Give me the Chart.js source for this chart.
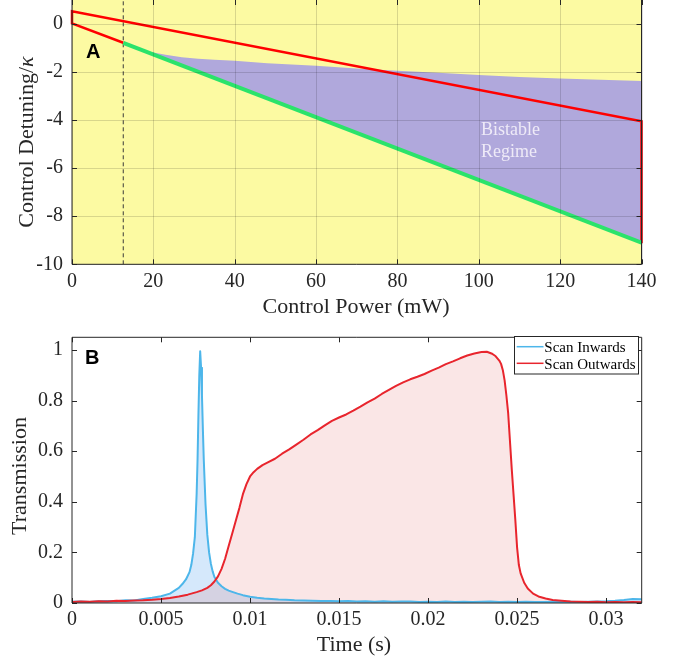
<!DOCTYPE html>
<html><head><meta charset="utf-8">
<script src="https://cdn.jsdelivr.net/npm/chart.js@4.4.0/dist/chart.umd.min.js"></script>
<style>
html,body{margin:0;padding:0;background:#fff;overflow:hidden;width:699px;height:660px;}
#c1{position:absolute;left:0;top:-4px;}
#c2{position:absolute;left:0;top:326px;}
</style></head><body>
<canvas id="c1" width="699" height="330"></canvas>
<canvas id="c2" width="699" height="334"></canvas>
<script>
// ---------- Panel A data ----------
const powerTicks = [0, 20, 40, 60, 80, 100, 120, 140];
const detuningTicks = [0, -2, -4, -6, -8, -10];
const redBoundary = [
  {x: 12.6, y: -0.78}, {x: 0, y: 0.03}, {x: 0, y: 0.53},
  {x: 140, y: -4.05}, {x: 140, y: -9.12}
];
const greenEdge = [{x: 12.6, y: -0.78}, {x: 140, y: -9.1}];
const thresholdLine = [{x: 12.6, y: -10}, {x: 12.6, y: 1}];
const bistableUpperP = [17.5, 20, 23, 27, 31, 35, 40, 48, 60, 70, 80, 90, 100, 110, 120, 130, 140];
const bistableUpperD = [-1.1, -1.18, -1.28, -1.38, -1.45, -1.49, -1.53, -1.63, -1.74, -1.85, -1.94, -2.03, -2.12, -2.2, -2.27, -2.32, -2.37];
const bistableLower = [{x: 140, y: -9.1}, {x: 17.5, y: -1.1}];

// ---------- Panel B data ----------
const timeTicks = [0, 0.005, 0.01, 0.015, 0.02, 0.025, 0.03];
const timeTickLabels = ['0', '0.005', '0.01', '0.015', '0.02', '0.025', '0.03'];
const transTicks = [0, 0.2, 0.4, 0.6, 0.8, 1];
const transTickLabels = ['0', '0.2', '0.4', '0.6', '0.8', '1'];

const scanInT = [0,0.0005,0.001,0.0015,0.002,0.0025,0.003,0.0035,0.004,0.0045,0.005,0.0055,0.006,0.0062,0.0064,0.0066,0.0067,0.0068,0.0069,0.007,0.00705,0.0071,0.00715,0.0072,0.00725,0.0073,0.00735,0.0074,0.0075,0.0076,0.0077,0.0078,0.0079,0.008,0.0082,0.0084,0.0086,0.0088,0.009,0.0093,0.0096,0.01,0.0104,0.0108,0.0112,0.0116,0.012,
0.0125,0.013,0.0135,0.014,0.0145,0.015,0.0155,0.016,0.0165,0.017,0.0175,0.018,0.0185,0.019,0.0195,0.02,0.0205,0.021,0.0215,0.022,0.0225,0.023,0.0235,0.024,0.0245,0.025,0.0255,0.026,0.0265,0.027,0.0275,0.028,0.0285,0.029,0.0295,0.03,0.0305,0.031,0.0315,0.032];
const scanInV = [0.005,0.006,0.004,0.007,0.008,0.007,0.011,0.01,0.016,0.021,0.027,0.037,0.06,0.075,0.093,0.122,0.15,0.195,0.26,0.43,0.56,0.74,0.9,0.995,0.93,0.82,0.69,0.57,0.39,0.27,0.2,0.155,0.125,0.103,0.08,0.066,0.056,0.049,0.044,0.037,0.031,0.025,0.021,0.018,0.016,0.014,0.013,
0.011,0.01,0.009,0.008,0.008,0.007,0.008,0.006,0.007,0.005,0.007,0.005,0.006,0.006,0.004,0.005,0.004,0.006,0.004,0.005,0.004,0.005,0.006,0.004,0.005,0.004,0.005,0.004,0.004,0.005,0.004,0.005,0.004,0.005,0.006,0.007,0.009,0.012,0.016,0.015];

const scanOutT = [0,0.0005,0.001,0.0015,0.002,0.0025,0.003,0.0035,0.004,0.0045,0.005,0.0055,0.006,0.0065,0.007,0.0073,0.0076,0.0078,0.008,0.0082,0.0084,0.0086,0.0088,0.009,0.0092,0.0094,0.0096,0.0098,0.01,0.0102,0.0104,0.0107,0.011,0.0114,0.0118,0.0122,0.0126,0.013,0.0134,0.0138,0.0142,0.0146,0.015,0.0154,0.0158,0.0162,0.0166,0.017,0.0174,0.0178,0.0182,0.0186,0.019,0.0194,0.0198,0.0202,0.0206,0.021,0.0214,0.0218,0.0222,0.0226,0.023,0.0233,0.0236,0.0238,0.024,0.0241,0.0242,0.0243,0.0244,0.0245,0.0246,0.0247,0.0248,0.0249,0.025,0.0251,0.0252,0.0254,0.0256,0.0259,0.0262,0.0266,0.027,0.0275,0.028,0.0285,0.029,0.0295,0.03,0.0305,0.031,0.0315,0.032];
const scanOutV = [0.004,0.006,0.005,0.007,0.006,0.009,0.008,0.01,0.011,0.013,0.016,0.02,0.026,0.033,0.043,0.05,0.06,0.07,0.085,0.105,0.135,0.175,0.225,0.275,0.325,0.375,0.43,0.47,0.5,0.517,0.53,0.545,0.556,0.57,0.59,0.607,0.626,0.645,0.666,0.683,0.702,0.72,0.733,0.745,0.76,0.776,0.793,0.808,0.826,0.842,0.858,0.872,0.884,0.894,0.905,0.918,0.93,0.944,0.955,0.967,0.978,0.986,0.992,0.993,0.985,0.975,0.958,0.945,0.92,0.88,0.82,0.75,0.64,0.53,0.43,0.33,0.22,0.15,0.117,0.08,0.057,0.037,0.026,0.018,0.012,0.009,0.006,0.005,0.004,0.005,0.003,0.004,0.003,0.004,0.003];

const pts = (xs, ys) => xs.map((x, i) => ({x: x, y: ys[i]}));

Chart.defaults.font.family = '"Liberation Serif", "Times New Roman", serif';
Chart.defaults.color = '#262626';
const AX = '#262626';

function fitX(h) { return s => { s.height = h; s.paddingLeft = 0; s.paddingRight = 0; }; }
function fitY(w) { return s => { s.width = w; s.paddingTop = 0; s.paddingBottom = 0; }; }

// Generic axes decoration: box, inner ticks, optional grid, texts
function decorPlugin(o) {
  return {
    id: 'decor',
    beforeDraw(chart) {
      if (!o.bg) return;
      const a = chart.chartArea, c = chart.ctx;
      c.save(); c.fillStyle = o.bg;
      c.fillRect(a.left, a.top, a.right - a.left, a.bottom - a.top);
      c.restore();
    },
    afterDatasetsDraw(chart) {
      const a = chart.chartArea, c = chart.ctx;
      const xs = chart.scales.x, ys = chart.scales.y;
      c.save();
      if (o.grid) {
        c.strokeStyle = 'rgba(0,0,0,0.14)'; c.lineWidth = 1;
        xs.ticks.forEach(t => { const p = Math.round(xs.getPixelForValue(t.value)) + 0.5;
          c.beginPath(); c.moveTo(p, a.top); c.lineTo(p, a.bottom); c.stroke(); });
        ys.ticks.forEach(t => { const p = Math.round(ys.getPixelForValue(t.value)) + 0.5;
          c.beginPath(); c.moveTo(a.left, p); c.lineTo(a.right, p); c.stroke(); });
      }
      c.strokeStyle = AX; c.lineWidth = 1;
      const L = 5;
      xs.ticks.forEach(t => { const p = Math.round(xs.getPixelForValue(t.value)) + 0.5;
        c.beginPath(); c.moveTo(p, a.bottom); c.lineTo(p, a.bottom - L);
        c.moveTo(p, a.top); c.lineTo(p, a.top + L); c.stroke(); });
      ys.ticks.forEach(t => { const p = Math.round(ys.getPixelForValue(t.value)) + 0.5;
        c.beginPath(); c.moveTo(a.left, p); c.lineTo(a.left + L, p);
        c.moveTo(a.right, p); c.lineTo(a.right - L, p); c.stroke(); });
      c.beginPath();
      c.moveTo(a.left, a.top); c.lineTo(a.left, a.bottom); c.lineTo(a.right, a.bottom); c.lineTo(a.right, a.top);
      if (o.topBorder) c.lineTo(a.left, a.top);
      c.stroke();
      c.restore();
      if (o.after) o.after(chart, c);
    }
  };
}

// ---------- Chart A ----------
const offA = 4; // canvas y = page y + offA
new Chart(document.getElementById('c1'), {
  type: 'scatter',
  data: {
    datasets: [
      {label: 'stable edge', data: greenEdge, showLine: true, borderColor: '#2BE36B', borderWidth: 4, pointRadius: 0, fill: false, borderCapStyle: 'butt'},
      {label: 'boundary', data: redBoundary, showLine: true, borderColor: '#FF0000', borderWidth: 2.5, pointRadius: 0, fill: false, clip: false, borderJoinStyle: 'miter'},
      {label: 'threshold', data: thresholdLine, showLine: true, borderColor: '#3a3a3a', borderWidth: 1, borderDash: [4, 3], pointRadius: 0, fill: false},
      {label: 'Bistable Regime', data: pts(bistableUpperP, bistableUpperD).concat(bistableLower), showLine: true, borderWidth: 0, borderColor: 'rgba(0,0,0,0)', backgroundColor: '#B0A8DC', pointRadius: 0, fill: 'shape'}
    ]
  },
  options: {
    responsive: false, animation: false, events: [],
    layout: {padding: {left: 0, right: 57.5, top: offA, bottom: 0}},
    plugins: {legend: {display: false}, tooltip: {enabled: false}, filler: {drawTime: 'beforeDatasetsDraw'}},
    scales: {
      x: {type: 'linear', min: 0, max: 140,
        afterBuildTicks: s => { s.ticks = powerTicks.map(v => ({value: v})); },
        afterFit: fitX(61.7),
        grid: {display: false, drawTicks: false}, border: {display: false},
        ticks: {font: {size: 20}, color: AX, padding: 5, maxRotation: 0, autoSkip: false, callback: v => String(v)}},
      y: {type: 'linear', min: -10, max: 1,
        afterBuildTicks: s => { s.ticks = detuningTicks.map(v => ({value: v})); },
        afterFit: fitY(72),
        grid: {display: false, drawTicks: false}, border: {display: false},
        ticks: {font: {size: 20}, color: AX, padding: 9, autoSkip: false, callback: v => String(v)}}
    }
  },
  plugins: [decorPlugin({bg: '#FCFAA2', grid: true, topBorder: false, after: (chart, c) => {
    c.save();
    c.fillStyle = '#000';
    c.font = 'bold 20px "Liberation Sans", Arial, sans-serif';
    c.textAlign = 'left'; c.textBaseline = 'alphabetic';
    c.fillText('A', 86, 57.7 + offA);
    c.fillStyle = '#EEEAF7';
    c.font = '18px "Liberation Serif", serif';
    c.fillText('Bistable', 481, 135 + offA);
    c.fillText('Regime', 481, 157 + offA);
    c.fillStyle = AX;
    c.font = '22px "Liberation Serif", serif';
    c.textAlign = 'center';
    c.fillText('Control Power (mW)', 356, 313 + offA);
    // rotated y title with italic kappa
    const t1 = 'Control Detuning/', t2 = 'κ';
    const w1 = c.measureText(t1).width;
    c.font = 'italic 22px "Liberation Serif", serif';
    const w2 = c.measureText(t2).width;
    c.translate(33, 142 + offA); c.rotate(-Math.PI / 2);
    c.textAlign = 'left';
    c.font = '22px "Liberation Serif", serif';
    c.fillText(t1, -(w1 + w2) / 2, 0);
    c.font = 'italic 22px "Liberation Serif", serif';
    c.fillText(t2, -(w1 + w2) / 2 + w1, 0);
    c.restore();
  }})]
});

// ---------- Chart B ----------
const offB = -326; // canvas y = page y + offB
new Chart(document.getElementById('c2'), {
  type: 'scatter',
  data: {
    datasets: [
      {label: 'Scan Inwards', data: pts(scanInT, scanInV), showLine: true, borderColor: '#4DB6EA', borderWidth: 2, pointRadius: 0, backgroundColor: 'rgba(100,170,240,0.27)', fill: 'origin', order: 1, borderJoinStyle: 'round'},
      {label: 'Scan Outwards', data: pts(scanOutT, scanOutV), showLine: true, borderColor: '#E8252D', borderWidth: 2, pointRadius: 0, backgroundColor: 'rgba(220,60,60,0.13)', fill: 'origin', order: 0, borderJoinStyle: 'round'}
    ]
  },
  options: {
    responsive: false, animation: false, events: [],
    layout: {padding: {left: 0, right: 57.3, top: 337.3 + offB, bottom: 0}},
    plugins: {legend: {display: false}, tooltip: {enabled: false}, filler: {drawTime: 'beforeDatasetsDraw'}},
    scales: {
      x: {type: 'linear', min: 0, max: 0.032,
        afterBuildTicks: s => { s.ticks = timeTicks.map(v => ({value: v})); },
        afterFit: fitX(57),
        grid: {display: false, drawTicks: false}, border: {display: false},
        ticks: {font: {size: 20}, color: AX, padding: 5, maxRotation: 0, autoSkip: false, callback: (v, i) => timeTickLabels[i]}},
      y: {type: 'linear', min: 0, max: 1.05,
        afterBuildTicks: s => { s.ticks = transTicks.map(v => ({value: v})); },
        afterFit: fitY(72),
        grid: {display: false, drawTicks: false}, border: {display: false},
        ticks: {font: {size: 20}, color: AX, padding: 9, autoSkip: false, callback: (v, i) => transTickLabels[i]}}
    }
  },
  plugins: [decorPlugin({grid: false, topBorder: true, after: (chart, c) => {
    c.save();
    c.fillStyle = '#000';
    c.font = 'bold 20px "Liberation Sans", Arial, sans-serif';
    c.textAlign = 'left'; c.textBaseline = 'alphabetic';
    c.fillText('B', 85, 364 + offB);
    c.fillStyle = AX;
    c.font = '22px "Liberation Serif", serif';
    c.textAlign = 'center';
    c.fillText('Time (s)', 354, 651 + offB);
    c.save();
    c.translate(25.5, 476 + offB); c.rotate(-Math.PI / 2);
    c.fillText('Transmission', 0, 0);
    c.restore();
    // legend
    const bx = 514.5, by = 336.5 + offB, bw = 124, bh = 37.5;
    c.fillStyle = '#fff'; c.fillRect(bx, by, bw, bh);
    c.strokeStyle = AX; c.lineWidth = 1; c.strokeRect(bx, by, bw, bh);
    const rowsY = [346.7, 363.3], baseY = [352.3, 369.3];
    c.font = '15px "Liberation Serif", serif';
    c.textAlign = 'left';
    chart.data.datasets.forEach((ds, i) => {
      c.strokeStyle = ds.borderColor; c.lineWidth = 1.5;
      c.beginPath(); c.moveTo(516.7, rowsY[i] + offB); c.lineTo(543.5, rowsY[i] + offB); c.stroke();
      c.fillStyle = '#000';
      c.fillText(ds.label, 544.3, baseY[i] + offB);
    });
    c.restore();
  }})]
});
</script>
</body></html>
